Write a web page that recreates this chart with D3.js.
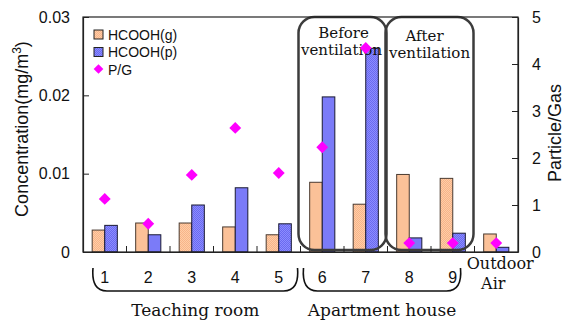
<!DOCTYPE html>
<html>
<head>
<meta charset="utf-8">
<script src="https://cdn.jsdelivr.net/npm/d3@7"></script>
<style>
  body { margin: 0; background: #fff; }
  svg text { fill: #111; }
  .sans { font-family: "Liberation Sans", Arial, sans-serif; }
  .serif { font-family: "DejaVu Serif", "Liberation Serif", serif; }
</style>
</head>
<body>
<svg id="chart" width="568" height="322"></svg>
<script>
// datos
const categories = ['1', '2', '3', '4', '5', '6', '7', '8', '9', 'Outdoor Air'];
const hcoohGas = [0.0028, 0.0037, 0.0037, 0.0032, 0.0022, 0.0089, 0.0061, 0.0099, 0.0094, 0.0023];
const hcoohPart = [0.0034, 0.0022, 0.0060, 0.0082, 0.0036, 0.0198, 0.0260, 0.0018, 0.0024, 0.0006];
const ratioPG = [1.13, 0.60, 1.64, 2.64, 1.68, 2.23, 4.34, 0.19, 0.19, 0.19];
const leftTicks = [0, 0.01, 0.02, 0.03];
const rightTicks = [0, 1, 2, 3, 4, 5];

const W = 568, H = 322;
const m = { left: 83, right: 50, top: 17, bottom: 70 };
const x0 = m.left, x1 = W - m.right, y0 = H - m.bottom, y1 = m.top;

const svg = d3.select('#chart');

// Texturas de las barras
const defs = svg.append('defs');
function addPattern(id, base, dot) {
  const p = defs.append('pattern').attr('id', id)
    .attr('width', 2).attr('height', 2).attr('patternUnits', 'userSpaceOnUse');
  p.append('rect').attr('width', 2).attr('height', 2).attr('fill', base);
  p.append('rect').attr('width', 1).attr('height', 1).attr('fill', dot);
  p.append('rect').attr('x', 1).attr('y', 1).attr('width', 1).attr('height', 1).attr('fill', dot);
}
addPattern('pat-g', '#FFCDA6', '#F7B48A');
addPattern('pat-p', '#8C8CFF', '#6A6AF0');

const x = d3.scaleBand().domain(categories).range([x0, x1]);
const xs = d3.scaleBand().domain(['g', 'p']).range([0, x.bandwidth()]).paddingInner(0).paddingOuter(0.73);
const yL = d3.scaleLinear().domain([0, 0.03]).range([y0, y1]);
const yR = d3.scaleLinear().domain([0, 5]).range([y0, y1]);

// Barras
const groups = svg.append('g').selectAll('g')
  .data(categories).enter().append('g')
  .attr('transform', d => `translate(${x(d)},0)`);

groups.append('rect')
  .attr('x', xs('g')).attr('width', xs.bandwidth())
  .attr('y', (d, i) => yL(hcoohGas[i])).attr('height', (d, i) => y0 - yL(hcoohGas[i]))
  .attr('fill', 'url(#pat-g)').attr('stroke', '#4a3a30').attr('stroke-width', 1);

groups.append('rect')
  .attr('x', xs('p')).attr('width', xs.bandwidth())
  .attr('y', (d, i) => yL(hcoohPart[i])).attr('height', (d, i) => y0 - yL(hcoohPart[i]))
  .attr('fill', 'url(#pat-p)').attr('stroke', '#1a1a33').attr('stroke-width', 1);

// Cajas redondeadas (antes / despues de ventilar)
const boxes = [
  { from: '6', to: '7', l1: 'Before', l2: 'ventilation', dx1: 1, dx2: -1, ty1: 38, ty2: 55 },
  { from: '8', to: '9', l1: 'After', l2: 'ventilation', dx1: -5, dx2: 0, ty1: 41, ty2: 58 }
];
boxes.forEach(b => {
  const bx = x(b.from) - 2, bw = x(b.to) + x.bandwidth() - 1 - bx;
  svg.append('rect').attr('x', bx).attr('y', y1).attr('width', bw).attr('height', y0 - 2 - y1)
    .attr('rx', 16).attr('ry', 16)
    .attr('fill', 'none').attr('stroke', '#3c3c3c').attr('stroke-width', 2.5);
  const cx = bx + bw / 2;
  svg.append('text').attr('class', 'serif').attr('x', cx + b.dx1).attr('y', b.ty1)
    .attr('text-anchor', 'middle').attr('font-size', 15).text(b.l1);
  svg.append('text').attr('class', 'serif').attr('x', cx + b.dx2).attr('y', b.ty2)
    .attr('text-anchor', 'middle').attr('font-size', 15).text(b.l2);
});

// Marco y ejes
svg.append('rect').attr('x', x0).attr('y', y1).attr('width', x1 - x0).attr('height', y0 - y1)
  .attr('fill', 'none').attr('stroke', '#222').attr('stroke-width', 1.2);

const axL = svg.append('g').attr('transform', `translate(${x0},0)`)
  .call(d3.axisLeft(yL).tickValues(leftTicks).tickSizeInner(-6).tickSizeOuter(0)
    .tickPadding(13).tickFormat(d => d === 0 ? '0' : d3.format('.2f')(d)));
const axR = svg.append('g').attr('transform', `translate(${x1},0)`)
  .call(d3.axisRight(yR).tickValues(rightTicks).tickSizeInner(-6).tickSizeOuter(0)
    .tickPadding(14).tickFormat(d3.format('d')));
const axB = svg.append('g').attr('transform', `translate(0,${y0})`)
  .call(d3.axisBottom(x).tickValues([]).tickSizeOuter(0));
[axL, axR, axB].forEach(a => {
  a.select('.domain').attr('stroke', '#222').attr('stroke-width', 1.2);
  a.selectAll('line').attr('stroke', '#222');
  a.selectAll('text').attr('class', 'sans').attr('font-size', 16).attr('fill', '#111');
});

// marcas entre grupos
svg.append('g').selectAll('line').data(categories.slice(1)).enter().append('line')
  .attr('x1', d => x(d)).attr('x2', d => x(d))
  .attr('y1', y0).attr('y2', y0 - 6).attr('stroke', '#222');

// Rombos P/G
const diamond = d3.symbol().type(d3.symbolDiamond2).size(90);
svg.append('g').selectAll('path').data(categories).enter().append('path')
  .attr('d', diamond)
  .attr('transform', (d, i) => `translate(${x(d) + x.bandwidth() / 2},${yR(ratioPG[i])})`)
  .attr('fill', '#FF00FF');

// Etiquetas del eje x
categories.slice(0, 9).forEach(c => {
  svg.append('text').attr('class', 'sans').attr('x', x(c) + x.bandwidth() / 2).attr('y', 283)
    .attr('text-anchor', 'middle').attr('font-size', 16).text(c);
});
const oc = x('Outdoor Air') + x.bandwidth() / 2 + 4;
svg.append('text').attr('class', 'serif').attr('x', oc).attr('y', 269)
  .attr('text-anchor', 'middle').attr('font-size', 16).text('Outdoor');
svg.append('text').attr('class', 'serif').attr('x', oc - 7).attr('y', 289)
  .attr('text-anchor', 'middle').attr('font-size', 16).text('Air');

// Llaves de agrupacion
function brace(xa, xb, top, bot) {
  const r = 14;
  return `M${xa},${top} Q${xa - 2},${bot} ${xa + r},${bot} L${xb - r},${bot} Q${xb + 2},${bot} ${xb},${top}`;
}
const braces = [
  { a: x('1') + 10, b: x('6') - 3, label: 'Teaching room' },
  { a: x('6') + 3, b: x('9') + x.bandwidth() - 14, label: 'Apartment house' }
];
braces.forEach(b => {
  svg.append('path').attr('d', brace(b.a, b.b, 268, 291))
    .attr('fill', 'none').attr('stroke', '#111').attr('stroke-width', 1.6);
  svg.append('text').attr('class', 'serif').attr('x', (b.a + b.b) / 2).attr('y', 316)
    .attr('text-anchor', 'middle').attr('font-size', 17).text(b.label);
});

// Titulos de ejes
svg.append('text').attr('class', 'sans').attr('font-size', 18)
  .attr('transform', `translate(28,${129}) rotate(-90)`)
  .attr('text-anchor', 'middle')
  .html('Concentration(mg/m<tspan dy="-7" font-size="12">3</tspan><tspan dy="7">)</tspan>');
svg.append('text').attr('class', 'sans').attr('font-size', 18)
  .attr('transform', `translate(561,${133}) rotate(-90)`)
  .attr('text-anchor', 'middle').text('Particle/Gas');

// Leyenda
const legend = [
  { label: 'HCOOH(g)', fill: 'url(#pat-g)', type: 'rect' },
  { label: 'HCOOH(p)', fill: 'url(#pat-p)', type: 'rect' },
  { label: 'P/G', fill: '#FF00FF', type: 'diamond' }
];
const leg = svg.append('g').attr('transform', 'translate(97,0)');
legend.forEach((l, i) => {
  const cy = 34 + i * 17.5;
  if (l.type === 'rect') {
    leg.append('rect').attr('x', -3).attr('y', cy - 4).attr('width', 9).attr('height', 9)
      .attr('fill', l.fill).attr('stroke', '#222');
  } else {
    leg.append('path').attr('d', d3.symbol().type(d3.symbolDiamond2).size(60))
      .attr('transform', `translate(1.5,${cy})`).attr('fill', l.fill);
  }
  leg.append('text').attr('class', 'sans').attr('x', 11).attr('y', cy + 5.5)
    .attr('font-size', 14).text(l.label);
});
</script>
</body>
</html>
